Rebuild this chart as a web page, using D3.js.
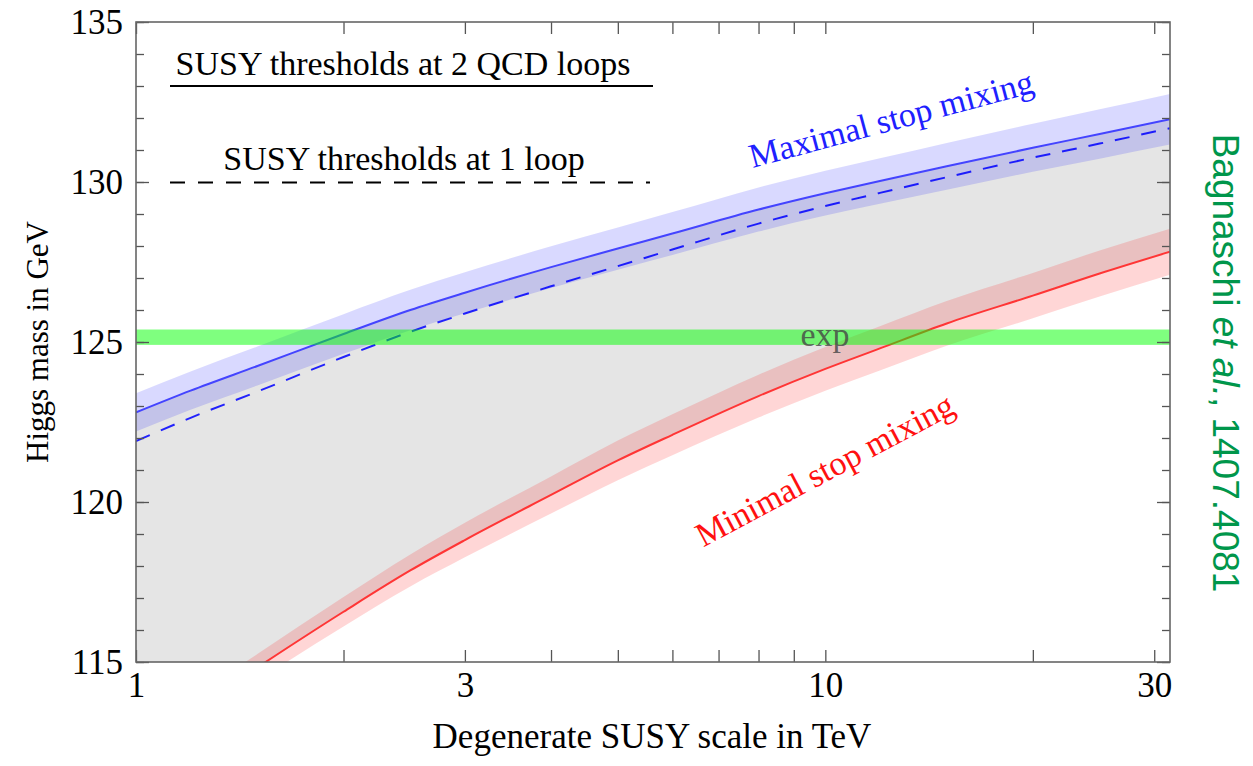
<!DOCTYPE html>
<html><head><meta charset="utf-8">
<script src="https://cdn.jsdelivr.net/npm/d3@7"></script>
<style>
body{margin:0;background:#fff;}
svg text{font-family:"Liberation Serif","DejaVu Serif",serif;}
</style></head>
<body><svg id="c" width="1253" height="766"></svg>
<script>
// ---- data ----
const scaleTeV = [1, 1.2, 1.5, 2, 2.5, 3, 4, 5, 6, 8, 10, 12, 15, 20, 25, 31.62];
const maxMix2Loop = [122.8, 123.48, 124.25, 125.25, 126.0, 126.54, 127.34, 127.92, 128.39, 129.14, 129.65, 130.03, 130.49, 131.07, 131.5, 131.96];
const maxMix1Loop = [121.9, 122.63, 123.45, 124.53, 125.32, 125.89, 126.74, 127.37, 127.89, 128.70, 129.25, 129.66, 130.15, 130.76, 131.2, 131.68];
const minMix2Loop = [112.2, 113.44, 114.83, 116.57, 117.86, 118.81, 120.22, 121.3, 122.1, 123.31, 124.16, 124.8, 125.58, 126.45, 127.14, 127.82];
const maxMixErr = [0.6, 0.6, 0.61, 0.62, 0.63, 0.64, 0.65, 0.66, 0.67, 0.69, 0.7, 0.71, 0.73, 0.75, 0.77, 0.79];
const minMixErr = [0.38, 0.4, 0.42, 0.46, 0.5, 0.54, 0.58, 0.62, 0.64, 0.67, 0.68, 0.69, 0.7, 0.71, 0.72, 0.72];
const expMass = [125.15];
const expErr = [0.24];
const xTicks = [1, 2, 3, 4, 5, 6, 7, 8, 9, 10, 20, 30];
const xTickLabels = [1, 3, 10, 30];
const yMinorTicks = d3.range(115, 136, 1);
const yMajorTicks = [115, 120, 125, 130, 135];

// ---- layout ----
const svg = d3.select("#c");
const L = 136, R = 1170, T = 22, B = 662;
const x = d3.scaleLog().domain([1, Math.sqrt(1000)]).range([L, R]);
const y = d3.scaleLinear().domain([115, 135]).range([B, T]);

svg.append("defs").append("clipPath").attr("id", "clip")
  .append("rect").attr("x", L).attr("y", T).attr("width", R - L).attr("height", B - T);

const pts = scaleTeV.map((s, i) => ({s, bmax: maxMix2Loop[i], b1: maxMix1Loop[i], rmin: minMix2Loop[i], be: maxMixErr[i], re: minMixErr[i]}));
const curve = d3.curveMonotoneX;
const g = svg.append("g").attr("clip-path", "url(#clip)");

// gray region between minimal and maximal mixing
g.append("path").datum(pts)
  .attr("d", d3.area().curve(curve).x(d => x(d.s)).y0(d => y(d.rmin)).y1(d => y(d.bmax)))
  .attr("fill", "#e5e5e5");

// lines
g.append("path").datum(pts)
  .attr("d", d3.line().curve(curve).x(d => x(d.s)).y(d => y(d.b1)))
  .attr("fill", "none").attr("stroke", "#0000ff").attr("stroke-opacity", 0.85)
  .attr("stroke-width", 2).attr("stroke-dasharray", "15,12");
g.append("path").datum(pts)
  .attr("d", d3.line().curve(curve).x(d => x(d.s)).y(d => y(d.bmax)))
  .attr("fill", "none").attr("stroke", "#5050ff").attr("stroke-width", 2);
g.append("path").datum(pts)
  .attr("d", d3.line().curve(curve).x(d => x(d.s)).y(d => y(d.rmin)))
  .attr("fill", "none").attr("stroke", "#ff4040").attr("stroke-width", 2);

// bands
g.append("path").datum(pts)
  .attr("d", d3.area().curve(curve).x(d => x(d.s)).y0(d => y(d.bmax - d.be)).y1(d => y(d.bmax + d.be)))
  .attr("fill", "#0000ff").attr("fill-opacity", 0.15);
g.append("path").datum(pts)
  .attr("d", d3.area().curve(curve).x(d => x(d.s)).y0(d => y(d.rmin - d.re)).y1(d => y(d.rmin + d.re)))
  .attr("fill", "#ff0000").attr("fill-opacity", 0.16);

// experimental band
g.append("rect").attr("x", L).attr("width", R - L)
  .attr("y", y(expMass[0] + expErr[0])).attr("height", y(expMass[0] - expErr[0]) - y(expMass[0] + expErr[0]))
  .attr("fill", "#00ff00").attr("fill-opacity", 0.5);
svg.append("text").attr("x", 825).attr("y", y(expMass[0]) + 9).attr("text-anchor", "middle")
  .attr("font-size", 34).attr("fill", "#444").attr("fill-opacity", 0.8).text("exp");

// ---- axes ----
const tickStyle = sel => { sel.select(".domain").remove(); sel.selectAll(".tick line").attr("stroke", "#555").attr("stroke-width", 1.3); sel.selectAll("text").attr("font-family", "Liberation Serif").attr("fill", "#000"); };
const fmtX = d => xTickLabels.includes(d) ? String(d) : "";
svg.append("g").attr("transform", `translate(0,${B})`)
  .call(d3.axisBottom(x).tickValues(xTicks).tickSize(-12).tickPadding(10).tickFormat(fmtX))
  .call(tickStyle).selectAll("text").attr("font-size", 35);
svg.append("g").attr("transform", `translate(0,${T})`)
  .call(d3.axisTop(x).tickValues(xTicks).tickSize(-12).tickFormat(() => ""))
  .call(tickStyle);
svg.append("g").attr("transform", `translate(${L},0)`)
  .call(d3.axisLeft(y).tickValues(yMinorTicks).tickSize(-8).tickFormat(() => ""))
  .call(tickStyle);
svg.append("g").attr("transform", `translate(${L},0)`)
  .call(d3.axisLeft(y).tickValues(yMajorTicks).tickSize(-13).tickPadding(13).tickFormat(d3.format("d")))
  .call(tickStyle).selectAll("text").attr("font-size", 35);
svg.append("g").attr("transform", `translate(${R},0)`)
  .call(d3.axisRight(y).tickValues(yMinorTicks).tickSize(-8).tickFormat(() => ""))
  .call(tickStyle);
svg.append("g").attr("transform", `translate(${R},0)`)
  .call(d3.axisRight(y).tickValues(yMajorTicks).tickSize(-13).tickFormat(() => ""))
  .call(tickStyle);

svg.append("rect").attr("x", L).attr("y", T).attr("width", R - L).attr("height", B - T)
  .attr("fill", "none").attr("stroke", "#666").attr("stroke-width", 1.6);

// titles
svg.append("text").attr("x", 652).attr("y", 748).attr("text-anchor", "middle")
  .attr("font-size", 35).text("Degenerate SUSY scale in TeV");
svg.append("text").attr("transform", "translate(48,342) rotate(-90)").attr("text-anchor", "middle")
  .attr("font-size", 31).text("Higgs mass in GeV");

// legend
svg.append("text").attr("x", 403).attr("y", 75).attr("text-anchor", "middle").attr("font-size", 34)
  .text("SUSY thresholds at 2 QCD loops");
svg.append("line").attr("x1", 170).attr("x2", 653).attr("y1", 86).attr("y2", 86)
  .attr("stroke", "#000").attr("stroke-width", 2);
svg.append("text").attr("x", 404).attr("y", 170).attr("text-anchor", "middle").attr("font-size", 34)
  .text("SUSY thresholds at 1 loop");
svg.append("line").attr("x1", 170).attr("x2", 650).attr("y1", 182.5).attr("y2", 182.5)
  .attr("stroke", "#000").attr("stroke-width", 2).attr("stroke-dasharray", "15,13");

// curve labels
svg.append("text").attr("transform", "translate(894,130) rotate(-15)").attr("text-anchor", "middle")
  .attr("font-size", 34).attr("fill", "#2020ff").text("Maximal stop mixing");
svg.append("text").attr("transform", "translate(830,480) rotate(-28)").attr("text-anchor", "middle")
  .attr("font-size", 34).attr("fill", "#ff1010").text("Minimal stop mixing");

// source
const src = svg.append("text").attr("transform", "translate(1213,363) rotate(90)").attr("text-anchor", "middle")
  .attr("font-size", 37).attr("fill", "#00964b").style("font-family", "'Liberation Sans', Arial, sans-serif");
src.append("tspan").text("Bagnaschi ");
src.append("tspan").attr("font-style", "italic").text("et al.");
src.append("tspan").text(", 1407.4081");
</script></body></html>
